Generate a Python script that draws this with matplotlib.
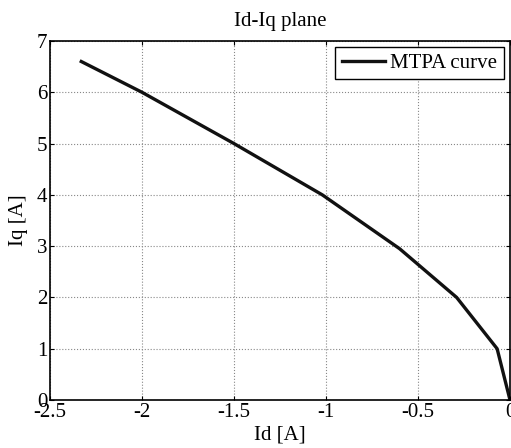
import matplotlib
matplotlib.use('Agg')
import matplotlib.pyplot as plt

# MTPA points
id_vals = [-2.33, -2.0, -1.5, -1.02, -0.6, -0.29, -0.07, 0.0]
iq_vals = [6.6, 6.0, 5.0, 4.0, 2.95, 2.0, 1.0, 0.0]

xticks = [-2.5, -2, -1.5, -1, -0.5, 0]
xtick_labels = ['-2.5', '-2', '-1.5', '-1', '-0.5', '0']
yticks = [0, 1, 2, 3, 4, 5, 6, 7]

plt.rcParams['font.family'] = ['Liberation Serif', 'DejaVu Serif']
plt.rcParams['font.size'] = 15

fig = plt.figure(figsize=(5.11, 4.48), dpi=100)
ax = fig.add_axes([50/511, 48/448, 460/511, 359/448])

ax.plot(id_vals, iq_vals, color='#111111', linewidth=2.4, label='MTPA curve')
ax.set_xlim(-2.5, 0)
ax.set_ylim(0, 7)
ax.set_xticks(xticks)
ax.set_xticklabels(xtick_labels)
ax.set_yticks(yticks)
ax.grid(True, color='#888888', linestyle=':', linewidth=0.8)
ax.tick_params(direction='in', top=True, right=True, length=3, pad=2, labelsize=15)
for s in ax.spines.values():
    s.set_linewidth(1.2)

ax.set_title('Id-Iq plane', fontsize=15, pad=11)
ax.set_xlabel('Id [A]', fontsize=15, labelpad=3)
ax.set_ylabel('Iq [A]', fontsize=15, labelpad=6)

leg = ax.legend(loc='upper right', fancybox=False, framealpha=1, edgecolor='black',
                borderpad=0.3, handlelength=2.1, handletextpad=0.25,
                borderaxespad=0.3, fontsize=15)
leg.get_frame().set_linewidth(1.0)

fig.savefig('out.png', dpi=100)
